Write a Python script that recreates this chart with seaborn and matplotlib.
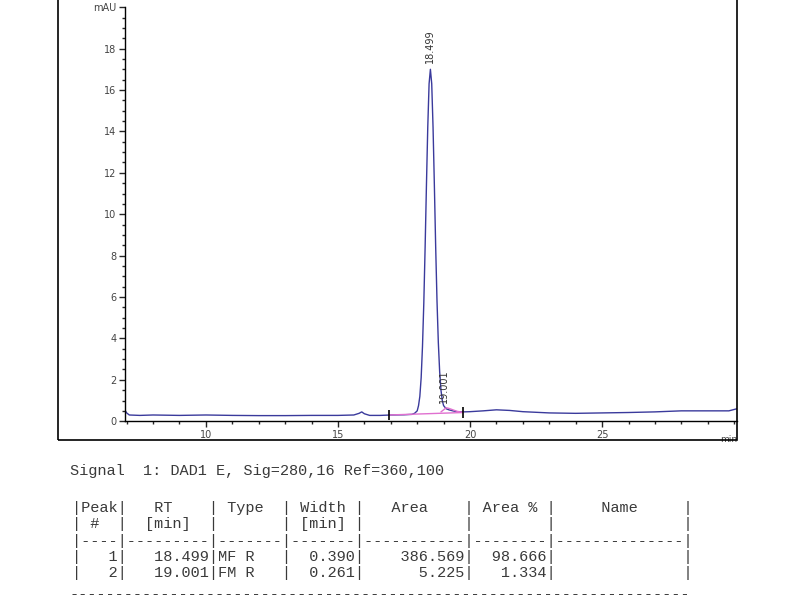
import matplotlib
matplotlib.use("Agg")
import matplotlib.pyplot as plt
import matplotlib.patches as patches
import numpy as np
import seaborn as sns
import pandas as pd

# chromatogram trace (min, mAU)
time = [6.93, 7.0, 7.1, 7.5, 8.0, 9.0, 10.0, 11.0, 12.0, 13.0, 14.0, 15.0, 15.6,
        15.8, 15.9, 16.0, 16.2, 16.6, 17.0, 17.5, 17.8, 17.9,
        18.0, 18.05, 18.1, 18.15, 18.2, 18.25, 18.3, 18.35, 18.4, 18.45, 18.5,
        18.55, 18.6, 18.65, 18.7, 18.75, 18.8, 18.85, 18.9, 18.95, 19.0,
        19.1, 19.2, 19.35, 19.5, 19.75, 20.0, 20.5, 21.0, 21.5, 22.0, 23.0,
        24.0, 25.0, 26.0, 27.0, 28.0, 29.0, 29.8, 30.1]
signal = [0.55, 0.4, 0.3, 0.28, 0.3, 0.28, 0.3, 0.28, 0.27, 0.27, 0.28, 0.28, 0.3,
          0.38, 0.45, 0.36, 0.28, 0.28, 0.3, 0.31, 0.33, 0.38,
          0.5, 0.75, 1.2, 2.1, 3.6, 5.7, 8.4, 11.4, 14.2, 16.3, 17.0,
          16.3, 14.2, 11.4, 8.4, 5.8, 3.8, 2.4, 1.5, 1.0, 0.75,
          0.6, 0.55, 0.5, 0.46, 0.45, 0.46, 0.5, 0.55, 0.52, 0.46, 0.4,
          0.38, 0.4, 0.42, 0.45, 0.5, 0.5, 0.5, 0.6]

# integration baseline (pink) and second peak tail
base_t = [16.93, 19.75]
base_y = [0.3, 0.42]
tail_t = [18.9, 19.0, 19.1, 19.2, 19.35, 19.5, 19.75]
tail_y = [0.45, 0.55, 0.65, 0.62, 0.55, 0.48, 0.42]
marks_t = [16.93, 19.75]

peak_rt = [18.499, 19.001]
peak_lbl = ["18.499", "19.001"]
peak_lbl_y = [17.3, 0.9]

yticks = [0, 2, 4, 6, 8, 10, 12, 14, 16, 18, 20]
ylabels = ["0", "2", "4", "6", "8", "10", "12", "14", "16", "18", "mAU"]
xticks = [10, 15, 20, 25]

signal_line = "Signal  1: DAD1 E, Sig=280,16 Ref=360,100"
table_rows = [
    "|Peak|   RT    | Type  | Width |   Area    | Area % |     Name     |",
    "| #  |  [min]  |       | [min] |           |        |              |",
    "|----|---------|-------|-------|-----------|--------|--------------|",
    "|   1|   18.499|MF R   |  0.390|    386.569|  98.666|              |",
    "|   2|   19.001|FM R   |  0.261|      5.225|   1.334|              |",
]
bottom_rule = "-" * 68

sns.set_style("ticks")
fig = plt.figure(figsize=(8, 6), dpi=100)
ax = fig.add_axes([0.156, 0.298, 0.765, 0.69])

df = pd.DataFrame({"t": time, "y": signal})
sns.lineplot(data=df, x="t", y="y", ax=ax, color="#3a3a9c", linewidth=1.0)
sns.lineplot(x=base_t, y=base_y, ax=ax, color="#e070d0", linewidth=1.0)
sns.lineplot(x=tail_t, y=tail_y, ax=ax, color="#e070d0", linewidth=1.0)
ax.vlines(marks_t, [v - 0.25 for v in base_y], [v + 0.25 for v in base_y],
          color="black", linewidth=1.2)

for rt, lbl, ly in zip(peak_rt, peak_lbl, peak_lbl_y):
    ax.text(rt, ly, lbl, rotation=90, ha="center", va="bottom",
            fontsize=7, color="#333333")

ax.set_xlim(6.93, 30.1)
ax.set_ylim(0, 20)
ax.set_xticks(xticks)
ax.set_xticks(np.arange(7, 31, 1), minor=True)
ax.set_yticks(yticks)
ax.set_yticklabels(ylabels)
ax.set_yticks(np.arange(0, 20.01, 0.5), minor=True)
ax.tick_params(axis="both", which="major", length=4, width=1, labelsize=7,
               labelcolor="#444444", pad=2)
ax.tick_params(axis="both", which="minor", length=2.5, width=1)
ax.set_xlabel("")
ax.set_ylabel("")
sns.despine(ax=ax, top=True, right=True)
for s in ("left", "bottom"):
    ax.spines[s].set_linewidth(1.0)
    ax.spines[s].set_color("black")
ax.text(1.0, -0.045, "min", transform=ax.transAxes, ha="right", va="center",
        fontsize=6.5, color="#444444")

# outer frame around the chart
frame = patches.Rectangle((0.0725, 0.267), 0.8485, 0.75, transform=fig.transFigure,
                          fill=False, edgecolor="black", linewidth=1.2, clip_on=False)
fig.patches.append(frame)

mono = {"family": "Liberation Mono", "size": 11, "color": "#3a3a3a"}
fig.text(0.087, 0.215, signal_line, va="center", **mono)
row_y = [0.153, 0.127, 0.098, 0.072, 0.045]
for yy, row in zip(row_y, table_rows):
    fig.text(0.09, yy, row, va="center", **mono)
fig.text(0.087, 0.01, bottom_rule, va="center", **mono)

fig.savefig("out.png", dpi=100)
